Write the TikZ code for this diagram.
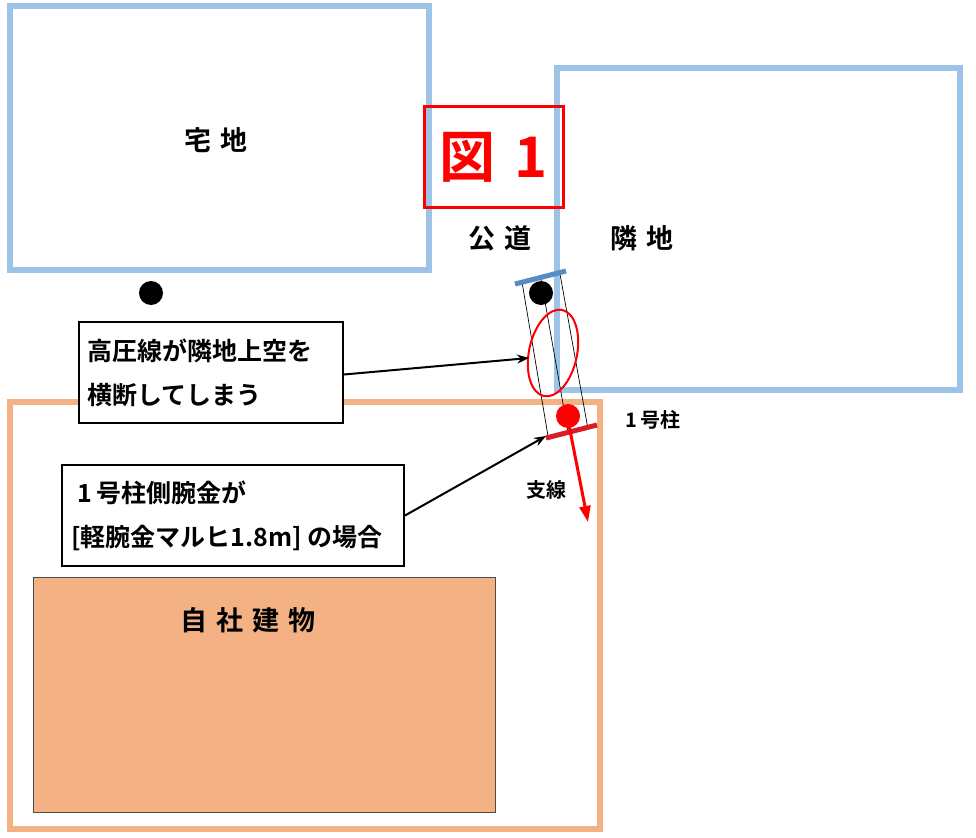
\documentclass[tikz,border=0pt]{standalone}
\usepackage{fontspec}
\setmainfont{Noto Sans CJK JP}[BoldFont={* Bold}]
\newfontfamily\cjk{Noto Sans CJK JP}
\usetikzlibrary{arrows.meta}
\definecolor{lotblue}{RGB}{157,195,230}
\definecolor{lotorange}{RGB}{244,177,131}
\definecolor{barblue}{RGB}{84,140,200}
\definecolor{barred}{RGB}{215,30,40}
\tikzset{
  lot/.style={line width=6pt},
  callout/.style={draw, line width=2pt, fill=white},
  lbl/.style={font=\bfseries\fontsize{27}{32}\selectfont},
  note/.style={font=\bfseries\fontsize{25}{44}\selectfont, align=left, anchor=west},
  wire/.style={line width=0.7pt},
  pointer/.style={-{Stealth[length=12pt,width=9pt]}, line width=2pt},
}
\begin{document}
\begin{tikzpicture}[x=1pt,y=-1pt]
            \useasboundingbox (0,0) rectangle (976,837);
            % lots
            \draw[lot, lotblue] (10,6) rectangle (429,270);
            \draw[lot, lotblue] (557,68) rectangle (960,390);
            \draw[lot, lotorange] (10,402) rectangle (600,829);
            \fill[lotorange, draw=black!70] (33,577) rectangle (495,812);
            \node[lbl] (taku) at (216,140) {宅\,\,地};
            \node[lbl] (kodo) at (500,238) {公\,\,道};
            \node[lbl] (rinchi) at (642,238) {隣\,\,地};
            \node[lbl] (jisha) at (248,620) {自\,\,社\,\,建\,\,物};
            % figure title
            \node[draw=red, line width=3pt, minimum width=139pt, minimum height=100pt, text=red,
                  font=\bfseries\fontsize{56}{60}\selectfont] (zu) at (493.5,157) {図\,\,1};
            % poles
            \fill[black] (151,293) circle[radius=12pt];
            \coordinate (tl) at (522,282); \coordinate (tm) at (541,279); \coordinate (tr) at (560,274);
            \coordinate (bl) at (548,436); \coordinate (bm) at (568,432); \coordinate (br) at (588,429);
            \draw[wire] (tl) -- (bl);
            \draw[wire] (tm) -- (bm);
            \draw[wire] (tr) -- (br);
            \draw[line width=5pt, barblue] (515,284) -- (566,271);
            \draw[line width=5pt, barred] (546,438) -- (597,425);
            \fill[black] (541,293) circle[radius=12pt];
            \fill[red] (568,416) circle[radius=12pt];
            \draw[red, line width=2pt, rotate around={-12:(553,353)}] (553,353) ellipse[x radius=24pt, y radius=44pt];
            \coordinate (stay) at (588,522);
            \draw[red, line width=3pt, -{Triangle[length=16pt,width=11pt]}] (568,420) -- (stay);
            \node[font=\bfseries\fontsize{20}{24}\selectfont, anchor=west] (pole1) at (622,420) {1\,号柱};
            \node[font=\bfseries\fontsize{20}{24}\selectfont] (shisen) at (546,490) {支線};
            % callouts
            \node[callout, minimum width=264pt, minimum height=101pt] (noteA) at (211,372.5) {};
            \node[note] at (84,372.5) {高圧線が隣地上空を\\横断してしまう};
            \node[callout, minimum width=342pt, minimum height=101pt] (noteB) at (233,515.5) {};
            \node[note] at (68,515.5) {\ 1\,号柱側腕金が\\{[}軽腕金マルヒ1.8m{]}\ の場合};
            \coordinate (ellL) at (529,358);
            \coordinate (barL) at (546,436);
            \draw[pointer] (noteA.east) ++(0,2) -- (ellL);
            \draw[pointer] (noteB.east) -- (barL);
        \end{tikzpicture}
\end{document}
